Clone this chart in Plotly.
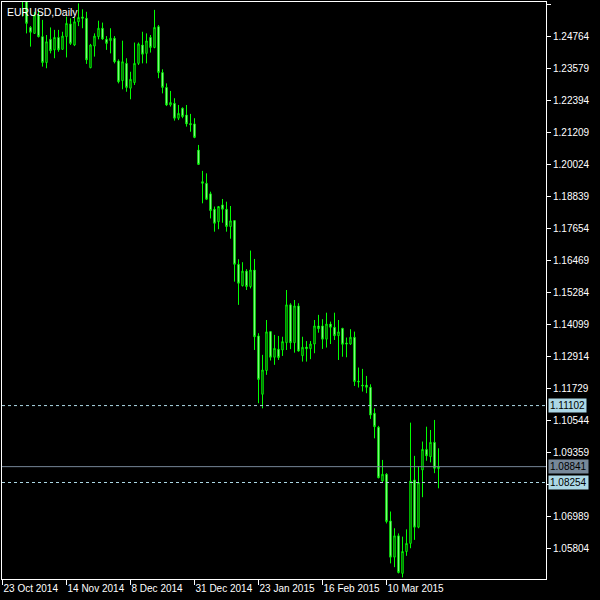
import plotly.graph_objects as go

# EURUSD daily bars, 23 Oct 2014 .. 27 Mar 2015 (first bars sit above the visible scale)
opens = [1.2645, 1.2655, 1.2670, 1.2695, 1.2730, 1.2640, 1.2612, 1.2510, 1.2488, 1.2556,
         1.2476, 1.2380, 1.2466, 1.2427, 1.2473, 1.2429, 1.2476, 1.2523, 1.2445, 1.2531,
         1.2549, 1.2544, 1.2361, 1.2441, 1.2476, 1.2507, 1.2466, 1.2461, 1.2470, 1.2386,
         1.2313, 1.2377, 1.2285, 1.2306, 1.2377, 1.2445, 1.2414, 1.2473, 1.2436, 1.2513,
         1.2343, 1.2288, 1.2223, 1.2229, 1.2174, 1.2211, 1.2186, 1.2154, 1.2153, 1.2056,
         1.1939, 1.1933, 1.1894, 1.1837, 1.1791, 1.1853, 1.1837, 1.1773, 1.1795, 1.1633,
         1.1554, 1.1608, 1.1551, 1.1612, 1.1368, 1.1152, 1.1240, 1.1384, 1.1289, 1.1319,
         1.1316, 1.1343, 1.1483, 1.1343, 1.1479, 1.1295, 1.1327, 1.1321, 1.1338, 1.1405,
         1.1405, 1.1356, 1.1412, 1.1400, 1.1369, 1.1396, 1.1342, 1.1338, 1.1363, 1.1201,
         1.1186, 1.1186, 1.1178, 1.1082, 1.1030, 1.0831, 1.0856, 1.0683, 1.0549, 1.0628,
         1.0489, 1.0570, 1.0600, 1.0835, 1.0660, 1.0872, 1.0948, 1.0921, 1.0974, 1.0877]
highs = [1.2685, 1.2695, 1.2715, 1.2765, 1.2790, 1.2660, 1.2625, 1.2515, 1.2568, 1.2575,
         1.2538, 1.2482, 1.2510, 1.2501, 1.2501, 1.2494, 1.2550, 1.2544, 1.2547, 1.2599,
         1.2577, 1.2568, 1.2449, 1.2488, 1.2535, 1.2528, 1.2478, 1.2507, 1.2478, 1.2392,
         1.2461, 1.2396, 1.2346, 1.2454, 1.2454, 1.2494, 1.2488, 1.2482, 1.2575, 1.2519,
         1.2355, 1.2303, 1.2275, 1.2248, 1.2223, 1.2214, 1.2223, 1.2190, 1.2174, 1.2075,
         1.1979, 1.1970, 1.1902, 1.1847, 1.1849, 1.1875, 1.1865, 1.1849, 1.1797, 1.1652,
         1.1641, 1.1615, 1.1684, 1.1653, 1.1378, 1.1298, 1.1427, 1.1386, 1.1372, 1.1368,
         1.1365, 1.1538, 1.1489, 1.1501, 1.1489, 1.1365, 1.1349, 1.1349, 1.1427, 1.1446,
         1.1430, 1.1454, 1.1421, 1.1454, 1.1427, 1.1398, 1.1362, 1.1393, 1.1384, 1.1251,
         1.1246, 1.1220, 1.1189, 1.1100, 1.1035, 1.0909, 1.0860, 1.0718, 1.0656, 1.0637,
         1.0625, 1.0652, 1.1047, 1.0924, 1.0884, 1.0977, 1.1032, 1.1020, 1.1057, 1.0952]
lows = [1.2615, 1.2625, 1.2660, 1.2690, 1.2630, 1.2550, 1.2488, 1.2439, 1.2486, 1.2473,
        1.2365, 1.2359, 1.2414, 1.2396, 1.2420, 1.2427, 1.2399, 1.2445, 1.2441, 1.2515,
        1.2507, 1.2375, 1.2359, 1.2402, 1.2466, 1.2464, 1.2427, 1.2414, 1.2377, 1.2303,
        1.2281, 1.2272, 1.2244, 1.2297, 1.2371, 1.2377, 1.2377, 1.2417, 1.2433, 1.2322,
        1.2266, 1.2219, 1.2217, 1.2165, 1.2167, 1.2174, 1.2143, 1.2124, 1.2100, 1.2001,
        1.1859, 1.1871, 1.1803, 1.1754, 1.1763, 1.1787, 1.1754, 1.1728, 1.1569, 1.1483,
        1.1551, 1.1538, 1.1544, 1.1316, 1.1119, 1.1100, 1.1224, 1.1277, 1.1261, 1.1279,
        1.1294, 1.1316, 1.1319, 1.1306, 1.1310, 1.1273, 1.1273, 1.1282, 1.1304, 1.1380,
        1.1320, 1.1325, 1.1338, 1.1353, 1.1279, 1.1291, 1.1289, 1.1335, 1.1183, 1.1177,
        1.1162, 1.1156, 1.1061, 1.0989, 1.0841, 1.0825, 1.0674, 1.0526, 1.0512, 1.0489,
        1.0474, 1.0554, 1.0582, 1.0613, 1.0656, 1.0771, 1.0906, 1.0900, 1.0860, 1.0804]
closes = [1.2655, 1.2670, 1.2695, 1.2730, 1.2640, 1.2612, 1.2525, 1.2492, 1.2556, 1.2476,
          1.2380, 1.2457, 1.2424, 1.2473, 1.2427, 1.2478, 1.2525, 1.2451, 1.2531, 1.2547,
          1.2544, 1.2390, 1.2445, 1.2478, 1.2507, 1.2467, 1.2451, 1.2470, 1.2383, 1.2309,
          1.2383, 1.2288, 1.2318, 1.2377, 1.2449, 1.2411, 1.2460, 1.2436, 1.2510, 1.2343,
          1.2288, 1.2223, 1.2232, 1.2174, 1.2192, 1.2180, 1.2153, 1.2150, 1.2103, 1.2003,
          1.1933, 1.1874, 1.1832, 1.1785, 1.1847, 1.1837, 1.1773, 1.1794, 1.1633, 1.1563,
          1.1608, 1.1551, 1.1612, 1.1365, 1.1207, 1.1242, 1.1383, 1.1289, 1.1322, 1.1288,
          1.1347, 1.1483, 1.1343, 1.1479, 1.1312, 1.1326, 1.1321, 1.1338, 1.1405, 1.1395,
          1.1356, 1.1412, 1.1400, 1.1369, 1.1383, 1.1337, 1.1338, 1.1363, 1.1199, 1.1198,
          1.1183, 1.1178, 1.1075, 1.1032, 1.0843, 1.0856, 1.0681, 1.0549, 1.0628, 1.0492,
          1.0570, 1.0600, 1.0831, 1.0660, 1.0825, 1.0948, 1.0924, 1.0974, 1.0878, 1.08841]

date_ticks = [0, 16, 32, 48, 64, 80, 96]
date_labels = ["23 Oct 2014", "14 Nov 2014", "8 Dec 2014", "31 Dec 2014",
               "23 Jan 2015", "16 Feb 2015", "10 Mar 2015"]

price_ticks = [1.25949, 1.24764, 1.23579, 1.22394, 1.21209, 1.20024, 1.18839, 1.17654, 1.16469,
               1.15284, 1.14099, 1.12914, 1.11729, 1.10544, 1.09359, 1.08174, 1.06989, 1.05804]
# 1.08174 sits under the 1.08254 level box in the terminal, so its text is not shown
price_labels = ["" if v == 1.08174 else f"{v:.5f}" for v in price_ticks]

level_high = 1.11102
level_low = 1.08254
bid = 1.08841

GREEN = "#00ff00"
LIGHTBLUE = "#add8e6"
SLATE = "#778899"

fig = go.Figure(go.Candlestick(
    x=list(range(len(opens))), open=opens, high=highs, low=lows, close=closes,
    increasing=dict(line=dict(color=GREEN, width=1), fillcolor="#000000"),
    decreasing=dict(line=dict(color=GREEN, width=1), fillcolor="#ffffff"),
    whiskerwidth=0, hoverinfo="skip", showlegend=False))

for lvl, col, dash in [(level_high, LIGHTBLUE, "3px,3px"), (level_low, LIGHTBLUE, "3px,3px"), (bid, SLATE, "solid")]:
    fig.add_shape(type="line", xref="paper", x0=0, x1=1, yref="y", y0=lvl, y1=lvl,
                  line=dict(color=col, width=1, dash=dash))
    fig.add_annotation(xref="paper", x=1, xanchor="left", xshift=2, yref="y", y=lvl,
                       text=f"{lvl:.5f}", showarrow=False, bgcolor=col, borderpad=1,
                       font=dict(color="black", size=10))

fig.add_annotation(xref="paper", x=0, xanchor="left", xshift=3, yref="paper", y=1, yanchor="top", yshift=-2,
                   text="EURUSD,Daily", showarrow=False, font=dict(color="white", size=10.5))

fig.update_layout(
    width=600, height=600, margin=dict(l=2, r=54, t=2, b=21),
    paper_bgcolor="black", plot_bgcolor="black", boxgap=0.5,
    font=dict(family="Liberation Sans, Arial, sans-serif", size=10, color="white"),
    # 4px per bar; the quarter-bar offset puts wicks on whole pixels
    xaxis=dict(range=[-0.125, 135.875], showgrid=False, zeroline=False, showline=True, linecolor="white",
               linewidth=1, mirror=True, tickmode="array", tickvals=date_ticks, ticktext=date_labels,
               ticks="outside", ticklen=5, tickcolor="white", ticklabelposition="outside right",
               tickangle=0, automargin=False, rangeslider=dict(visible=False), fixedrange=True),
    yaxis=dict(side="right", range=[1.04682, 1.26042], showgrid=False, zeroline=False, showline=True,
               linecolor="white", linewidth=1, mirror=True, tickmode="array", tickvals=price_ticks,
               ticktext=price_labels, ticks="outside", ticklen=4,
               tickcolor="white", automargin=False, fixedrange=True),
)

# page body has an 8px default margin; drop it so the figure fills the window
fig.write_html("out.html", config={"displayModeBar": False},
               post_script="document.body.style.margin='0';")
